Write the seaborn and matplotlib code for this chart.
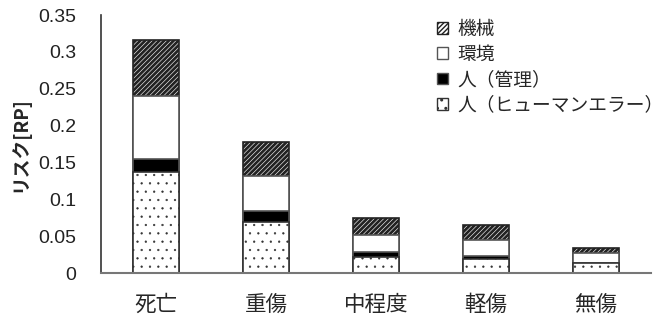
import matplotlib
matplotlib.use("Agg")
import matplotlib.pyplot as plt
import seaborn as sns
import numpy as np
import pandas as pd
from matplotlib.patches import Patch

categories = ["死亡", "重傷", "中程度", "軽傷", "無傷"]
human_error = [0.137, 0.069, 0.022, 0.019, 0.013]
management = [0.018, 0.015, 0.007, 0.004, 0.0005]
environment = [0.085, 0.048, 0.023, 0.022, 0.0135]
machinery = [0.076, 0.046, 0.023, 0.020, 0.007]
labels = ["機械", "環境", "人（管理）", "人（ヒューマンエラー）"]
yticks = [0, 0.05, 0.1, 0.15, 0.2, 0.25, 0.3, 0.35]
ytick_labels = ["0", "0.05", "0.1", "0.15", "0.2", "0.25", "0.3", "0.35"]

sns.set_style("white")
plt.rcParams["font.family"] = ["Noto Sans CJK JP", "DejaVu Sans"]

df = pd.DataFrame({"cat": categories, "h": human_error, "m": management,
                   "e": environment, "k": machinery})
df["c1"] = df["h"]
df["c2"] = df["c1"] + df["m"]
df["c3"] = df["c2"] + df["e"]
df["c4"] = df["c3"] + df["k"]

fig = plt.figure(figsize=(6.64, 3.21), dpi=100)
ax = fig.add_axes([101/664, 1-273/321, 550/664, (273-15)/321])

edge = "#555555"
layers = [("c4", "white", "///////", "#222222", 2.0),
          ("c3", "white", "", edge, 1.0),
          ("c2", "black", "", edge, 1.0),
          ("c1", "white", "..", "#333333", 0.4)]
for col, fc, hatch, ec, hlw in layers:
    with plt.rc_context({"hatch.linewidth": hlw, "hatch.color": ec}):
        sns.barplot(data=df, x="cat", y=col, ax=ax, color=fc, width=0.42,
                    edgecolor=ec, linewidth=1.2, hatch=hatch, saturation=1)
for p in ax.patches:
    p.set_edgecolor(edge) if False else None

ax.set_ylim(0, 0.35)
ax.set_xlim(-0.5, 4.5)
ax.set_yticks(yticks)
ax.set_yticklabels(ytick_labels, fontsize=14, color="#222222", family="Liberation Sans")
ax.tick_params(axis="y", direction="in", length=6, width=1, color="#333333", pad=18)
ax.tick_params(axis="x", length=0, labelsize=15.5, pad=15)
ax.set_xlabel("")
ax.set_ylabel("リスク[RP]", fontsize=13.5, fontweight="bold", labelpad=6)
for s in ["top", "right"]:
    ax.spines[s].set_visible(False)
ax.spines["left"].set_color("#333333")
ax.spines["bottom"].set_color("#777777")
ax.spines["left"].set_linewidth(1.2)
ax.spines["bottom"].set_linewidth(1.5)

with plt.rc_context({"hatch.linewidth": 1.6}):
    h1 = Patch(facecolor="white", edgecolor="#222222", hatch="///////")
with plt.rc_context({"hatch.linewidth": 0.6}):
    h4 = Patch(facecolor="white", edgecolor="#333333", hatch="..")
handles = [h1,
           Patch(facecolor="white", edgecolor=edge),
           Patch(facecolor="black", edgecolor=edge),
           h4]
ax.legend(handles, labels, loc="upper left", bbox_to_anchor=(0.61, 0.985),
          frameon=False, fontsize=13.5, handlelength=0.6, handleheight=0.6,
          handletextpad=0.5, labelspacing=0.22, borderpad=0, borderaxespad=0)

fig.savefig("out.png", dpi=100)
